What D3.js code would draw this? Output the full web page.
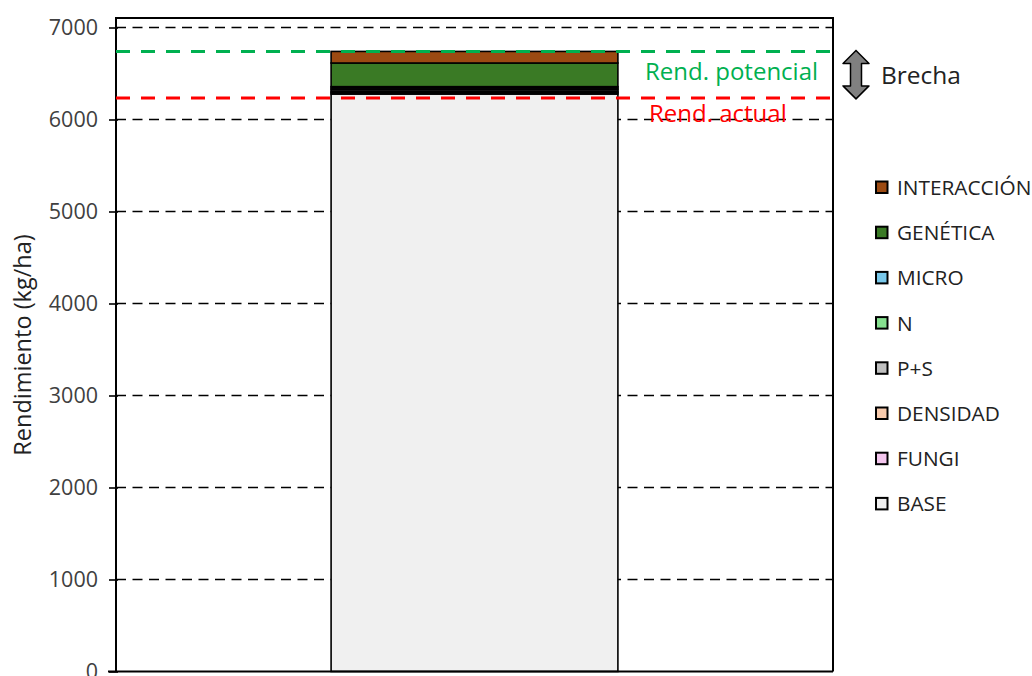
<!DOCTYPE html>
<html><head><meta charset="utf-8">
<script src="https://cdn.jsdelivr.net/npm/d3@7"></script>
<style>html,body{margin:0;padding:0;background:#fff;} svg{display:block;}</style>
</head><body>
<svg id="chart" width="1032" height="676"></svg>
<script>
// ---- data ----
const categories = ["Trigo"];
const seriesNames = ["BASE", "FUNGI", "DENSIDAD", "P+S", "N", "MICRO", "GENÉTICA", "INTERACCIÓN"];
const seriesValues = [6277, 14, 12, 20, 18, 16, 257, 126];
const seriesColors = ["#f0f0f0", "#f4c6ee", "#f8cbad", "#bfbfbf", "#86e08f", "#79c8ea", "#3a7a25", "#9c4a12"];
const yTicks = [0, 1000, 2000, 3000, 4000, 5000, 6000, 7000];
const rendPotencial = 6740;
const rendActual = 6235;
const labels = { yTitle: "Rendimiento (kg/ha)", potencial: "Rend. potencial", actual: "Rend. actual", brecha: "Brecha" };

// ---- layout ----
const FONT = "'Open Sans', 'Noto Sans', sans-serif";
const svg = d3.select("#chart");
const L = 116, R = 833, Y0 = 671.5, Y7 = 27.5, TOP = 18;

const x = d3.scaleBand().domain(categories).range([L, R]).paddingInner(0).paddingOuter(0.75);
const y = d3.scaleLinear().domain([0, 7000]).range([Y0, Y7]);

// gridlines
svg.append("g").selectAll("line").data(yTicks.filter(d => d > 0)).join("line")
  .attr("x1", L).attr("x2", R).attr("y1", d => y(d)).attr("y2", d => y(d))
  .attr("stroke", "#000").attr("stroke-width", 1.6).attr("stroke-dasharray", "10,6.5");

// stacked bar
const stackRow = {}; seriesNames.forEach((n, i) => stackRow[n] = seriesValues[i]);
const stacked = d3.stack().keys(seriesNames)([stackRow]);
svg.append("g").selectAll("rect").data(stacked).join("rect")
  .attr("x", x(categories[0])).attr("width", x.bandwidth())
  .attr("y", d => y(d[0][1])).attr("height", d => y(d[0][0]) - y(d[0][1]))
  .attr("fill", (d, i) => seriesColors[i])
  .attr("stroke", "#000").attr("stroke-width", 1.6);

// frame (top / right)
svg.append("path")
  .attr("d", `M${L},${TOP}H${R}V${Y0}`)
  .attr("fill", "none").attr("stroke", "#000").attr("stroke-width", 2);

// y axis
const yAxis = svg.append("g").attr("transform", `translate(${L},0)`)
  .call(d3.axisLeft(y).tickValues(yTicks).tickFormat(d3.format("d")).tickSize(7).tickPadding(11).tickSizeOuter(0));
yAxis.select(".domain").remove();
yAxis.selectAll(".tick line").attr("stroke", "#000").attr("stroke-width", 1.6).attr("x2", -7).attr("x1", 2);
yAxis.selectAll("text").attr("font-family", FONT).attr("font-size", 21.5).attr("fill", "#404040");
svg.append("line").attr("x1", L).attr("x2", L).attr("y1", TOP - 1).attr("y2", Y0)
  .attr("stroke", "#000").attr("stroke-width", 2);
svg.append("line").attr("x1", L - 8).attr("x2", R).attr("y1", Y0).attr("y2", Y0)
  .attr("stroke", "#000").attr("stroke-width", 2);

// y title
svg.append("text").attr("transform", `translate(31,345) rotate(-90)`)
  .attr("text-anchor", "middle").attr("font-family", FONT).attr("font-size", 23.5).attr("fill", "#222")
  .text(labels.yTitle);

// reference lines
svg.append("line").attr("x1", L).attr("x2", R).attr("y1", y(rendPotencial)).attr("y2", y(rendPotencial))
  .attr("stroke", "#00b050").attr("stroke-width", 3).attr("stroke-dasharray", "14,11");
svg.append("line").attr("x1", L).attr("x2", R).attr("y1", y(rendActual)).attr("y2", y(rendActual))
  .attr("stroke", "#ff0000").attr("stroke-width", 3).attr("stroke-dasharray", "14,11");

svg.append("text").attr("x", 645).attr("y", y(rendPotencial) + 29)
  .attr("font-family", FONT).attr("font-size", 24).attr("fill", "#00b050").text(labels.potencial);
svg.append("text").attr("x", 649).attr("y", y(rendActual) + 24)
  .attr("font-family", FONT).attr("font-size", 24).attr("fill", "#ff0000").text(labels.actual);

// brecha arrow
const ax = 856, yt = y(rendPotencial) - 1, yb = y(rendActual) + 1, hw = 13, sw = 5.5, hh = 13;
svg.append("path")
  .attr("d", `M${ax},${yt} L${ax+hw},${yt+hh} L${ax+sw},${yt+hh} L${ax+sw},${yb-hh} L${ax+hw},${yb-hh} L${ax},${yb} L${ax-hw},${yb-hh} L${ax-sw},${yb-hh} L${ax-sw},${yt+hh} L${ax-hw},${yt+hh} Z`)
  .attr("fill", "#808080").attr("stroke", "#000").attr("stroke-width", 1.5).attr("stroke-linejoin", "round");
svg.append("text").attr("x", 881).attr("y", (yt + yb) / 2 + 9)
  .attr("font-family", FONT).attr("font-size", 24.5).attr("fill", "#222").text(labels.brecha);

// legend
const legendOrder = seriesNames.map((n, i) => ({ name: n, color: seriesColors[i] })).reverse();
const lg = svg.append("g").selectAll("g").data(legendOrder).join("g")
  .attr("transform", (d, i) => `translate(876,${187 + i * 45.2})`);
lg.append("rect").attr("x", 0).attr("y", -5.5).attr("width", 11.5).attr("height", 11.5)
  .attr("fill", d => d.color).attr("stroke", "#000").attr("stroke-width", 2);
lg.append("text").attr("x", 21).attr("y", 8).attr("font-family", FONT).attr("font-size", 20.8)
  .attr("fill", "#222").text(d => d.name);
</script>
</body></html>
